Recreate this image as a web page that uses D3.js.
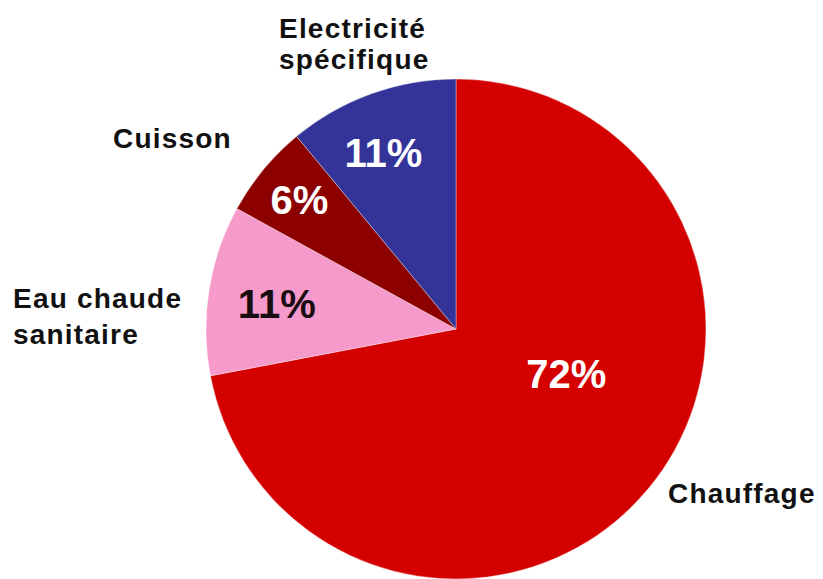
<!DOCTYPE html>
<html>
<head>
<meta charset="utf-8">
<script src="https://cdn.jsdelivr.net/npm/d3@7/dist/d3.min.js"></script>
<style>
  html, body { margin: 0; padding: 0; background: #fff; }
  svg { display: block; }
  text { font-family: "Liberation Sans", Arial, sans-serif; font-weight: bold; }
</style>
</head>
<body>
<svg id="chart" width="823" height="579"></svg>
<script>
// Répartition des consommations d'énergie (résidentiel)
const categories = ["Chauffage", "Eau chaude sanitaire", "Cuisson", "Electricité spécifique"];
const shares = [72, 11, 6, 11];
const valueLabels = ["72%", "11%", "6%", "11%"];
const categoryLines = [["Chauffage"], ["Eau chaude", "sanitaire"], ["Cuisson"], ["Electricité", "spécifique"]];

const colors = ["#d40000", "#f69acb", "#8c0000", "#333399"];
const valueTextColors = ["#ffffff", "#1a0d12", "#ffffff", "#ffffff"];

// Pie geometry
const cx = 456, cy = 329, radius = 250;

// Placement of the percentage labels (polar, degrees clockwise from 12 o'clock)
const valuePlacement = [
  { angle: 112, r: 119 },
  { angle: 278, r: 181 },
  { angle: 309.5, r: 203 },
  { angle: 337.5, r: 190 }
];
// Placement of the category names (left edge x, first baseline y, line step)
const namePlacement = [
  { x: 668, y: 503, step: 34 },
  { x: 13, y: 308, step: 36 },
  { x: 113, y: 148, step: 34 },
  { x: 279, y: 38, step: 31 }
];

const svg = d3.select("#chart");
const g = svg.append("g").attr("transform", `translate(${cx},${cy})`);

const pie = d3.pie().value(d => d).sort(null);
const arc = d3.arc().innerRadius(0).outerRadius(radius);
const arcs = pie(shares);

g.selectAll("path.slice")
  .data(arcs)
  .join("path")
  .attr("class", "slice")
  .attr("d", arc)
  .attr("fill", (d, i) => colors[i])
  .attr("stroke", "#ffffff")
  .attr("stroke-opacity", 0.35)
  .attr("stroke-width", 1);

g.selectAll("text.value")
  .data(arcs)
  .join("text")
  .attr("class", "value")
  .attr("text-anchor", "middle")
  .attr("dominant-baseline", "central")
  .attr("font-size", 40)
  .attr("fill", (d, i) => valueTextColors[i])
  .attr("x", (d, i) => valuePlacement[i].r * Math.sin(valuePlacement[i].angle * Math.PI / 180))
  .attr("y", (d, i) => -valuePlacement[i].r * Math.cos(valuePlacement[i].angle * Math.PI / 180))
  .text((d, i) => valueLabels[i]);

const names = svg.selectAll("text.name")
  .data(categories)
  .join("text")
  .attr("class", "name")
  .attr("font-size", 28)
  .attr("letter-spacing", 1.2)
  .attr("fill", "#111111")
  .attr("x", (d, i) => namePlacement[i].x)
  .attr("y", (d, i) => namePlacement[i].y);

names.selectAll("tspan")
  .data((d, i) => categoryLines[i].map(line => ({ line, p: namePlacement[i] })))
  .join("tspan")
  .attr("x", d => d.p.x)
  .attr("dy", (d, j) => j === 0 ? 0 : d.p.step)
  .text(d => d.line);
</script>
</body>
</html>
